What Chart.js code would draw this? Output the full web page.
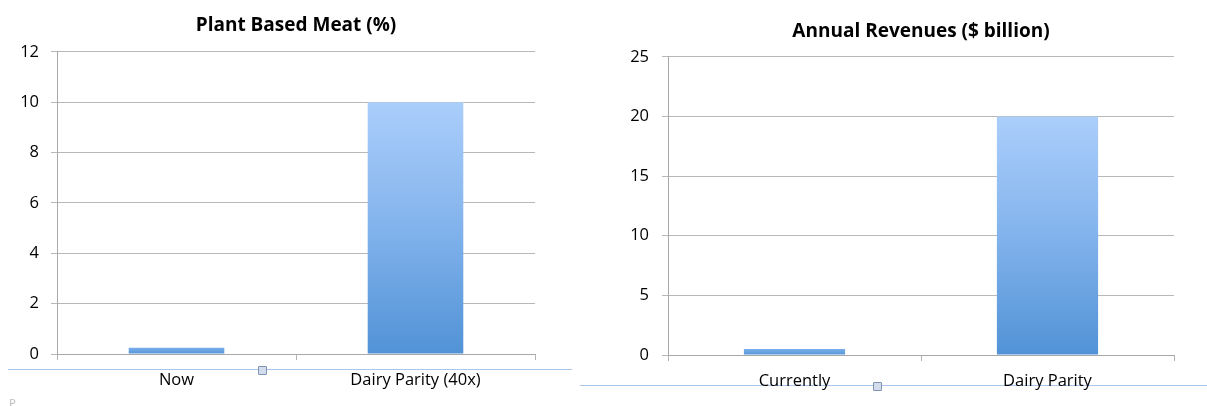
<!DOCTYPE html>
<html>
<head>
<meta charset="utf-8">
<script src="https://cdn.jsdelivr.net/npm/chart.js@4"></script>
<style>
  html, body { margin: 0; padding: 0; background: #fff; }
  body { width: 1207px; height: 406px; position: relative; overflow: hidden; }
  .box { position: absolute; top: 0; height: 406px; }
  #leftBox { left: 0; width: 575px; }
  #rightBox { left: 575px; width: 632px; }
  .rule { position: absolute; height: 1px; background: #a9c7ec; }
  .handle { position: absolute; width: 7px; height: 7px; border: 1px solid #7f93b3; background: #d3dcec; border-radius: 1px; }
  #pmark { position: absolute; left: 9px; top: 397px; font: 11px "DejaVu Sans", sans-serif; color: #c0c0c0; }
</style>
</head>
<body>
<div class="rule" style="left:8px; top:369px; width:564px;"></div>
<div class="rule" style="left:580px; top:385px; width:627px;"></div>
<div class="box" id="leftBox"><canvas id="leftChart"></canvas></div>
<div class="box" id="rightBox"><canvas id="rightChart"></canvas></div>
<div class="handle" style="left:258px; top:366px;"></div>
<div class="handle" style="left:873px; top:382px;"></div>
<div id="pmark">P</div>
<script>
// ---- Data ----
const leftTitle = 'Plant Based Meat (%)';
const leftCategories = ['Now', 'Dairy Parity (40x)'];
const leftValues = [0.25, 10];
const leftAxisMin = 0, leftAxisMax = 12, leftAxisStep = 2;

const rightTitle = 'Annual Revenues ($ billion)';
const rightCategories = ['Currently', 'Dairy Parity'];
const rightValues = [0.5, 20];
const rightAxisMin = 0, rightAxisMax = 25, rightAxisStep = 5;

const FONT = '"Open Sans", sans-serif';

function barGradient(ctx) {
  const chart = ctx.chart;
  const area = chart.chartArea;
  if (!area || ctx.type !== 'data') return '#6aa5e6';
  const y = chart.scales.y;
  const top = y.getPixelForValue(ctx.raw);
  const bottom = y.getPixelForValue(0);
  if (Math.abs(bottom - top) < 12) {
    const g0 = chart.ctx.createLinearGradient(0, top, 0, bottom);
    g0.addColorStop(0, '#79aeea');
    g0.addColorStop(1, '#5596d9');
    return g0;
  }
  const g = chart.ctx.createLinearGradient(0, top, 0, bottom);
  g.addColorStop(0, '#abcefb');
  g.addColorStop(0.5, '#82b3ec');
  g.addColorStop(1, '#5192d6');
  return g;
}

function makeChart(id, title, cats, vals, min, max, step, cfg) {
  return new Chart(document.getElementById(id), {
    type: 'bar',
    data: {
      labels: cats,
      datasets: [{
        data: vals,
        backgroundColor: barGradient,
        borderWidth: 0,
        categoryPercentage: 1.0,
        barPercentage: 0.4
      }]
    },
    options: {
      responsive: true,
      maintainAspectRatio: false,
      animation: false,
      events: [],
      layout: { padding: { left: 0, right: cfg.padRight, top: 0, bottom: 0 } },
      plugins: {
        legend: { display: false },
        tooltip: { enabled: false },
        title: {
          display: true,
          text: title,
          fullSize: false,
          color: '#000',
          font: { family: FONT, size: 19, weight: 'bold', lineHeight: 1.2 },
          padding: { top: cfg.titleTop, bottom: cfg.titleBottom }
        }
      },
      scales: {
        x: {
          grid: { display: true, drawOnChartArea: false, drawTicks: true, tickLength: 6, color: '#b4b4b4', offset: true },
          border: { display: true, color: '#a8a8a8', width: 1 },
          ticks: { color: '#000', font: { family: FONT, size: 16.5 }, padding: cfg.xPad, maxRotation: 0 },
          afterFit: s => { s.height = cfg.xHeight; }
        },
        y: {
          min: min, max: max,
          grid: { color: '#b8b8b8', tickLength: 6, lineWidth: 1 },
          border: { display: true, color: '#a8a8a8', width: 1 },
          ticks: { stepSize: step, color: '#000', font: { family: FONT, size: 16.5 }, padding: cfg.yPad },
          afterFit: s => { s.width = cfg.yWidth; }
        }
      }
    }
  });
}

makeChart('leftChart', leftTitle, leftCategories, leftValues, leftAxisMin, leftAxisMax, leftAxisStep,
  { padRight: 40, titleTop: 14, titleBottom: 15, xHeight: 52, xPad: 10, yPad: 12, yWidth: 57 });
makeChart('rightChart', rightTitle, rightCategories, rightValues, rightAxisMin, rightAxisMax, rightAxisStep,
  { padRight: 33, titleTop: 20, titleBottom: 14, xHeight: 51, xPad: 10, yPad: 13, yWidth: 93 });
</script>
</body>
</html>
